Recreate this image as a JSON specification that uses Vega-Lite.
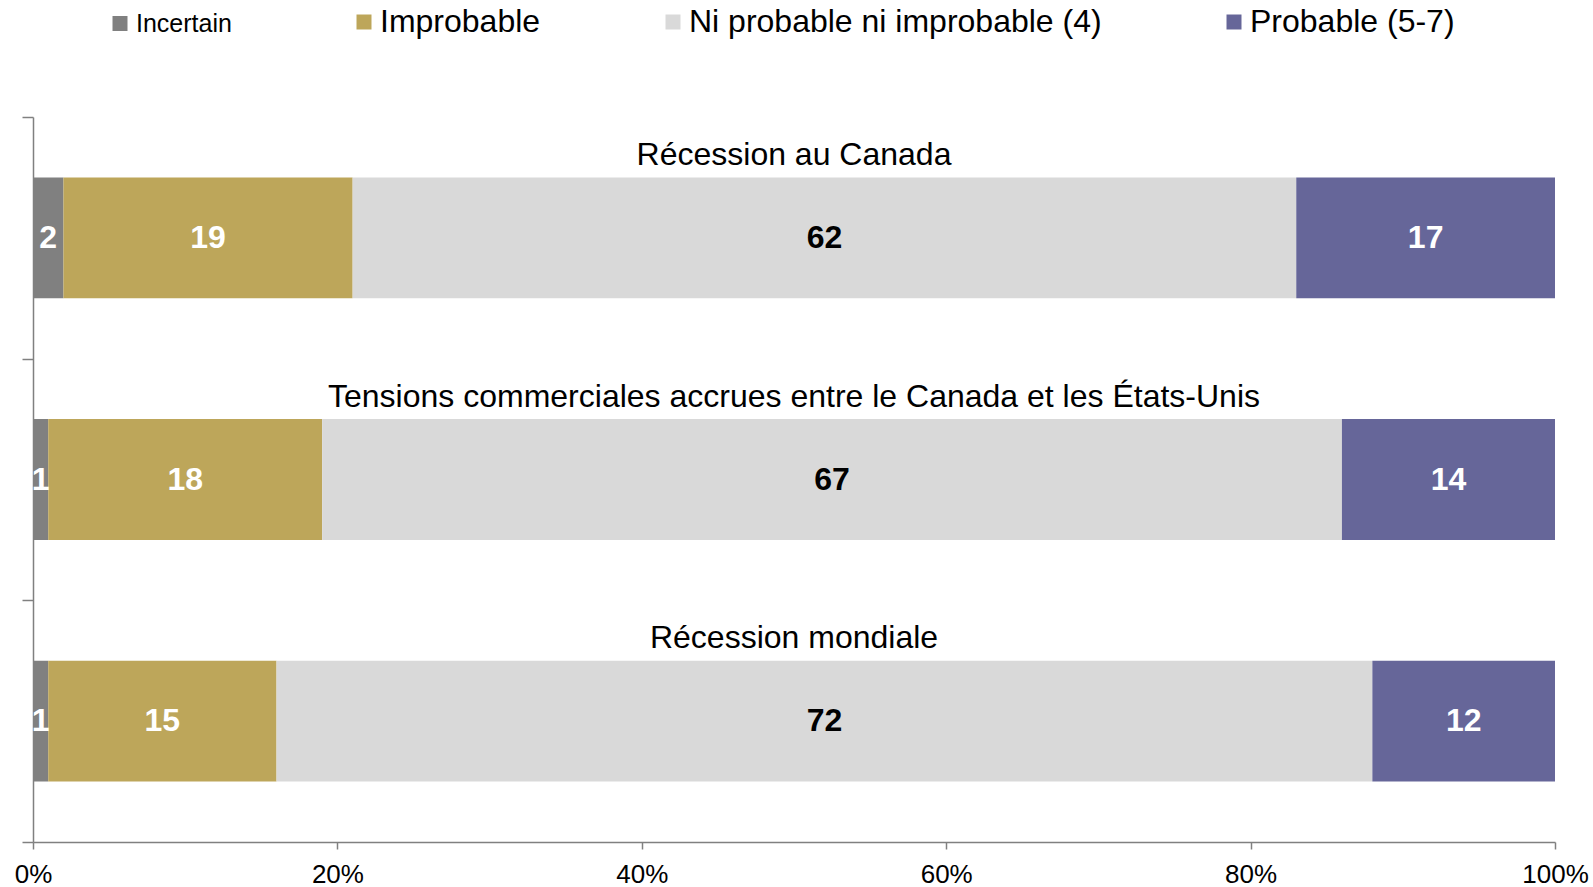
{
  "$schema": "https://vega.github.io/schema/vega-lite/v6.json",
  "width": 1522,
  "height": 725,
  "autosize": {"type": "none"},
  "padding": {"left": 33, "top": 117, "right": 38, "bottom": 45},
  "background": "white",
  "config": {
    "view": {"stroke": null},
    "font": "Liberation Sans",
    "axis": {"grid": false}
  },
  "datasets": {
    "segments": [
      {"category": "Récession au Canada", "response": "Incertain", "order": 1, "value": 2},
      {"category": "Récession au Canada", "response": "Improbable", "order": 2, "value": 19},
      {"category": "Récession au Canada", "response": "Ni probable ni improbable (4)", "order": 3, "value": 62},
      {"category": "Récession au Canada", "response": "Probable (5-7)", "order": 4, "value": 17},
      {"category": "Tensions commerciales accrues entre le Canada et les États-Unis", "response": "Incertain", "order": 1, "value": 1},
      {"category": "Tensions commerciales accrues entre le Canada et les États-Unis", "response": "Improbable", "order": 2, "value": 18},
      {"category": "Tensions commerciales accrues entre le Canada et les États-Unis", "response": "Ni probable ni improbable (4)", "order": 3, "value": 67},
      {"category": "Tensions commerciales accrues entre le Canada et les États-Unis", "response": "Probable (5-7)", "order": 4, "value": 14},
      {"category": "Récession mondiale", "response": "Incertain", "order": 1, "value": 1},
      {"category": "Récession mondiale", "response": "Improbable", "order": 2, "value": 15},
      {"category": "Récession mondiale", "response": "Ni probable ni improbable (4)", "order": 3, "value": 72},
      {"category": "Récession mondiale", "response": "Probable (5-7)", "order": 4, "value": 12}
    ]
  },
  "data": {"name": "segments"},
  "transform": [
    {"stack": "value", "groupby": ["category"], "sort": [{"field": "order", "order": "ascending"}], "as": ["v0", "v1"]},
    {"calculate": "(datum.v0 + datum.v1) / 2", "as": "mid"}
  ],
  "encoding": {
    "y": {
      "field": "category",
      "type": "nominal",
      "sort": ["Récession au Canada", "Tensions commerciales accrues entre le Canada et les États-Unis", "Récession mondiale"],
      "scale": {"paddingInner": 0, "paddingOuter": 0},
      "axis": {
        "labels": false,
        "title": null,
        "tickBand": "extent",
        "tickSize": 11,
        "tickColor": "#808080",
        "tickWidth": 1.5,
        "domainColor": "#808080",
        "domainWidth": 1.5
      }
    }
  },
  "layer": [
    {
      "mark": {"type": "bar", "height": {"band": 0.5}},
      "encoding": {
        "x": {
          "field": "v0",
          "type": "quantitative",
          "title": null,
          "scale": {"domain": [0, 100], "nice": false},
          "axis": {
            "values": [0, 20, 40, 60, 80, 100],
            "labelExpr": "datum.value + '%'",
            "labelFontSize": 26,
            "labelColor": "black",
            "labelPadding": 12,
            "labelFlush": false,
            "labelOverlap": false,
            "tickSize": 7,
            "tickColor": "#808080",
            "tickWidth": 1.5,
            "domainColor": "#808080",
            "domainWidth": 1.5
          }
        },
        "x2": {"field": "v1"},
        "color": {
          "field": "response",
          "type": "nominal",
          "scale": {
            "domain": ["Incertain", "Improbable", "Ni probable ni improbable (4)", "Probable (5-7)"],
            "range": ["#808080", "#BDA65A", "#D9D9D9", "#666699"]
          },
          "legend": {
            "orient": "none",
            "legendX": 71,
            "legendY": -111,
            "direction": "horizontal",
            "title": null,
            "padding": 0,
            "symbolType": "square",
            "symbolSize": 225,
            "symbolStrokeWidth": 0,
            "symbolOpacity": 1,
            "labelFontSize": {"expr": "datum.label === 'Incertain' ? 25 : 32"},
            "labelColor": "black",
            "labelOffset": 0,
            "labelLimit": 0,
            "columnPadding": 116
          }
        }
      }
    },
    {
      "mark": {"type": "text", "fontSize": 32, "fontWeight": "bold", "baseline": "middle", "align": "center"},
      "encoding": {
        "x": {"field": "mid", "type": "quantitative", "title": null},
        "text": {"field": "value", "type": "quantitative"},
        "color": {
          "condition": {"test": "datum.response === 'Ni probable ni improbable (4)'", "value": "black"},
          "value": "white"
        }
      }
    },
    {
      "transform": [{"filter": "datum.response === 'Incertain'"}],
      "mark": {"type": "text", "fontSize": 32, "baseline": "alphabetic", "align": "center", "dy": -73, "color": "black"},
      "encoding": {
        "x": {"datum": 50, "type": "quantitative", "title": null},
        "text": {"field": "category", "type": "nominal"}
      }
    }
  ]
}
